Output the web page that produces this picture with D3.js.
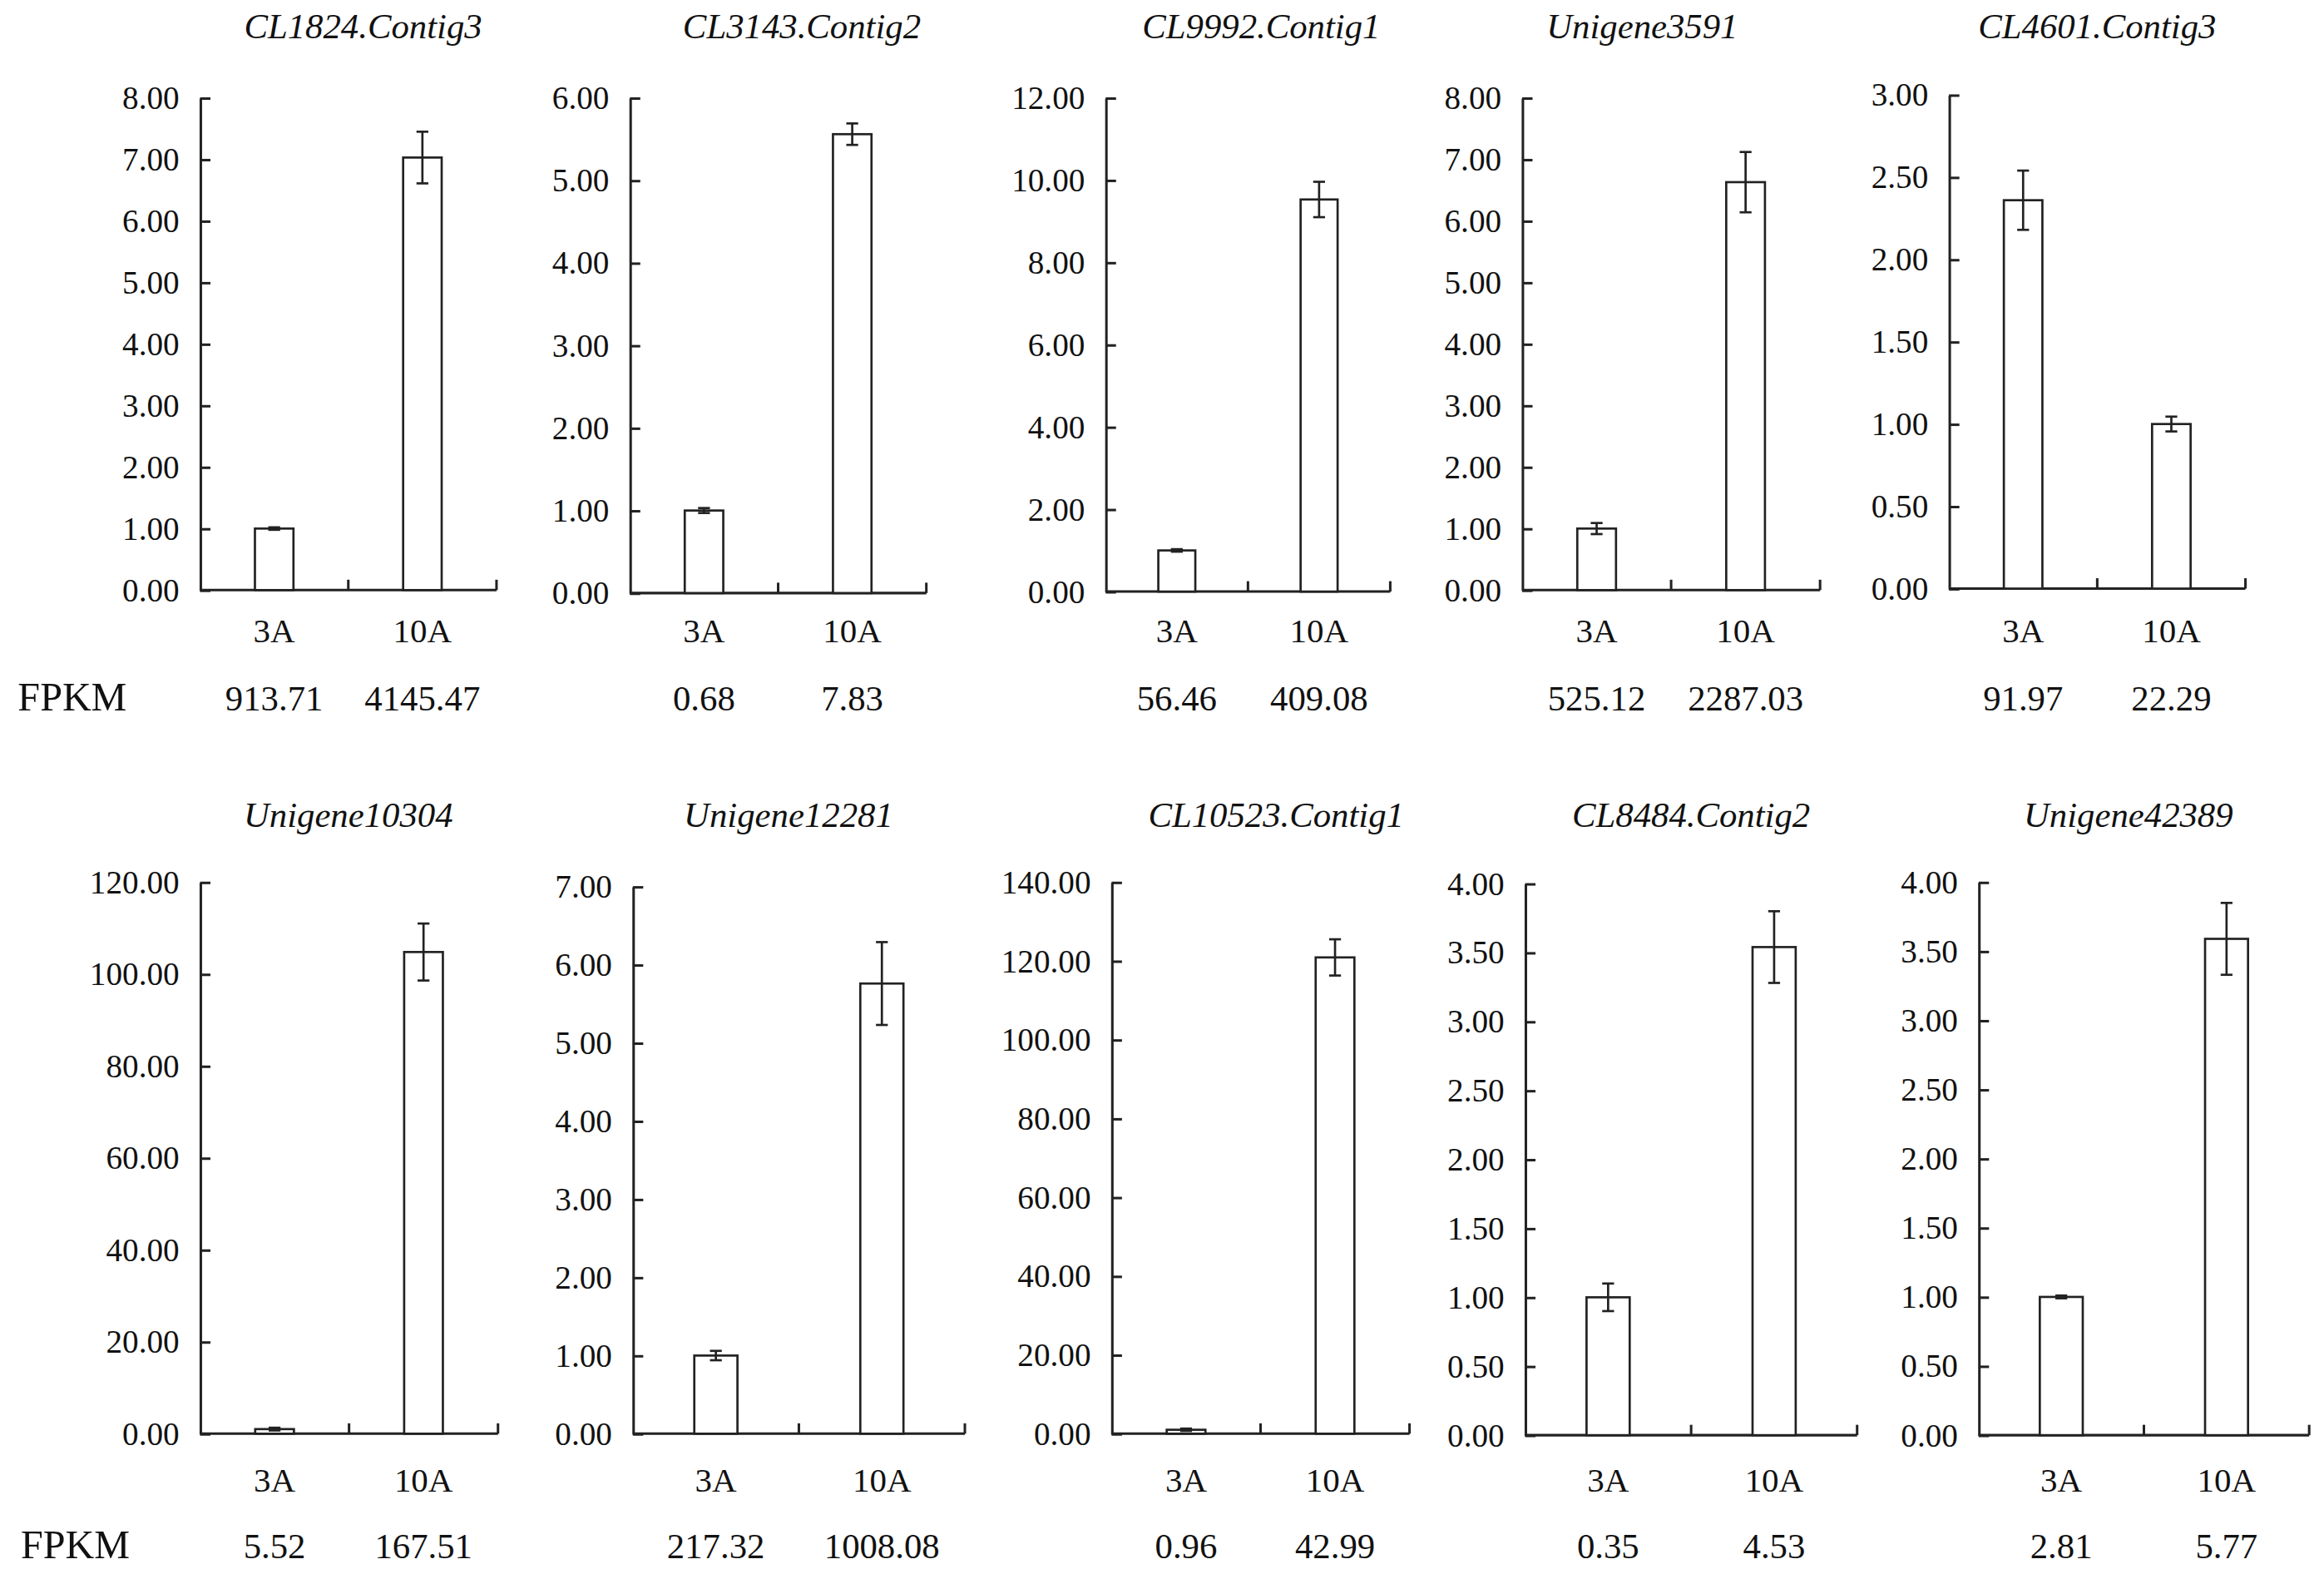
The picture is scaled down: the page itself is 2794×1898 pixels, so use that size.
<!DOCTYPE html>
<html>
<head>
<meta charset="utf-8">
<script src="https://cdn.jsdelivr.net/npm/d3@7"></script>
<style>
  html,body{margin:0;padding:0;background:#fff}
  svg{display:block}
  text{font-family:"Liberation Serif","Times New Roman",serif;fill:#111}
</style>
</head>
<body>
<div id="chart"></div>
<script>
const GENES  = ['CL1824.Contig3','CL3143.Contig2','CL9992.Contig1','Unigene3591','CL4601.Contig3',
                'Unigene10304','Unigene12281','CL10523.Contig1','CL8484.Contig2','Unigene42389'];
const GROUPS = ['3A','10A'];
// relative expression (bar heights) per gene: [3A, 10A]
const MEANS  = [[1.00,7.03],[1.00,5.56],[1.00,9.53],[1.00,6.63],[2.36,1.00],
                [1.00,104.8],[1.00,5.76],[1.00,120.9],[1.00,3.54],[1.00,3.59]];
const ERRORS = [[0.02,0.42],[0.03,0.13],[0.03,0.43],[0.09,0.49],[0.18,0.045],
                [0.3,6.2],[0.06,0.53],[0.3,4.6],[0.10,0.26],[0.01,0.26]];
const FPKM   = [['913.71','4145.47'],['0.68','7.83'],['56.46','409.08'],['525.12','2287.03'],['91.97','22.29'],
                ['5.52','167.51'],['217.32','1008.08'],['0.96','42.99'],['0.35','4.53'],['2.81','5.77']];
const Y_MAX  = [8,6,12,8,3,120,7,140,4,4];
const Y_STEP = [1,1,2,1,0.5,20,1,20,0.5,0.5];

/* ── layout (in a 1568 x 1065 frame, scaled to the page) ── */
const VW=1568, VH=1065;
const PANELS=[
  {x0:135, x1:335, top:66, zero:398, tx:245},
  {x0:425, x1:625, top:66, zero:400, tx:541},
  {x0:746, x1:938, top:66, zero:399, tx:851},
  {x0:1027,x1:1228,top:66, zero:398, tx:1108},
  {x0:1315,x1:1515,top:64, zero:397, tx:1415},
  {x0:135, x1:336, top:595,zero:967, tx:235},
  {x0:427, x1:651, top:598,zero:967, tx:532},
  {x0:750, x1:951, top:595,zero:967, tx:861},
  {x0:1029,x1:1253,top:596,zero:968, tx:1141},
  {x0:1335,x1:1558,top:595,zero:968, tx:1436},
];
const ROWS=[{title:26, cat:433, fpkm:479},{title:558, cat:1006, fpkm:1051}];
const INK='#222';

const svg=d3.select('#chart').append('svg')
  .attr('width',2794).attr('height',1898)
  .attr('viewBox',`0 0 ${VW} ${VH}`).attr('preserveAspectRatio','none');

GENES.forEach((gene,i)=>{
  const p=PANELS[i], row=ROWS[i<5?0:1];
  const g=svg.append('g');

  const y=d3.scaleLinear().domain([0,Y_MAX[i]]).range([p.zero,p.top]);
  const x=d3.scaleBand().domain(GROUPS).range([p.x0,p.x1]).paddingInner(.74).paddingOuter(.37);
  const step=x.step();

  // title
  g.append('text').attr('x',p.tx).attr('y',row.title)
    .attr('text-anchor','middle').attr('font-style','italic')
    .attr('font-size','24px').text(gene);

  // y axis, ticks pointing inward
  const ticks=d3.range(0,Y_MAX[i]+Y_STEP[i]/2,Y_STEP[i]);
  const ya=g.append('g').attr('transform',`translate(${p.x0},0)`)
    .call(d3.axisLeft(y).tickValues(ticks).tickFormat(d3.format('.2f'))
      .tickSizeInner(-7).tickSizeOuter(0).tickPadding(14));
  ya.select('.domain').attr('stroke',INK).attr('stroke-width',1.7);
  ya.selectAll('.tick line').attr('stroke',INK).attr('stroke-width',1.7);
  ya.selectAll('.tick text').attr('font-size','22px')
    .attr('font-family','"Liberation Serif","Times New Roman",serif').attr('fill','#111');

  // x axis with boundary ticks
  g.append('line').attr('x1',p.x0).attr('x2',p.x1).attr('y1',p.zero).attr('y2',p.zero)
    .attr('stroke',INK).attr('stroke-width',1.7);
  GROUPS.forEach((_,k)=>{
    const bx=p.x0+step*(k+1);
    g.append('line').attr('x1',bx).attr('x2',bx).attr('y1',p.zero).attr('y2',p.zero-7)
      .attr('stroke',INK).attr('stroke-width',1.7);
  });

  // bars
  GROUPS.forEach((grp,k)=>{
    const v=MEANS[i][k], e=ERRORS[i][k];
    const bx=x(grp), bw=x.bandwidth(), cx=bx+bw/2;
    g.append('rect').attr('x',bx).attr('y',y(v))
      .attr('width',bw).attr('height',y(0)-y(v))
      .attr('fill','#fff').attr('stroke',INK).attr('stroke-width',1.5);
    // error bar
    g.append('line').attr('x1',cx).attr('x2',cx).attr('y1',y(v+e)).attr('y2',y(v-e))
      .attr('stroke',INK).attr('stroke-width',1.5);
    [v+e,v-e].forEach(t=>{
      g.append('line').attr('x1',cx-4).attr('x2',cx+4).attr('y1',y(t)).attr('y2',y(t))
        .attr('stroke',INK).attr('stroke-width',1.5);
    });
    // category + FPKM
    g.append('text').attr('x',cx).attr('y',row.cat).attr('text-anchor','middle')
      .attr('font-size','23px').text(grp);
    g.append('text').attr('x',cx).attr('y',row.fpkm).attr('text-anchor','middle')
      .attr('font-size','24px').text(FPKM[i][k]);
  });
});

// FPKM row labels
ROWS.forEach((r,j)=>{
  svg.append('text').attr('x',j?14:12).attr('y',r.fpkm).attr('font-size','27px').text('FPKM');
});
</script>
</body>
</html>
